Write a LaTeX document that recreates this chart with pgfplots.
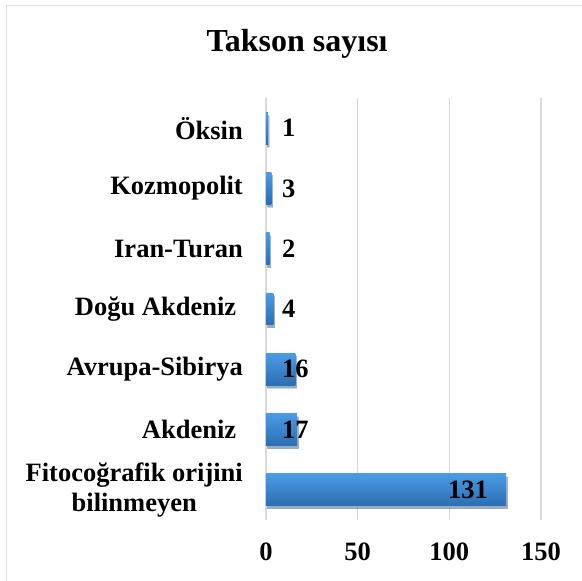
\documentclass[border=0pt]{standalone}
\usepackage{fontspec}
\setmainfont{Liberation Serif}
\usepackage{pgfplots}
\pgfplotsset{compat=1.18}
\usetikzlibrary{shadows}
\definecolor{barTop}{RGB}{74,155,229}
\definecolor{barBot}{RGB}{44,110,178}
\definecolor{gridc}{RGB}{217,217,217}
\definecolor{framec}{RGB}{220,224,232}
\newcommand{\lblfont}{\bfseries\fontsize{26.5bp}{30bp}\selectfont}
\pgfplotsset{
  onebar/.style={xbar, bar shift=0pt, draw=none, top color=barTop, bottom color=barBot,
    drop shadow={shadow xshift=1.5bp, shadow yshift=-3bp, opacity=0.3, fill=black!70}},
}
\begin{document}
\begin{tikzpicture}[x=1bp,y=1bp]
\useasboundingbox (-266,-61) rectangle (316,520);
\draw[framec, line width=1.5bp] (-259.3,-70) -- (-259.3,514.3) -- (330,514.3);
\begin{axis}[
  at={(0,0)}, anchor=south west,
  scale only axis, width=275bp, height=422bp,
  xmin=0, xmax=150, ymin=-0.5, ymax=6.5,
  enlargelimits=false,
  bar width=0.53,
  xtick={0,50,100,150},
  ytick={0,...,6},
  yticklabels={{Fitocoğrafik orijini\\bilinmeyen},{Akdeniz\hspace*{0.25em}},{Avrupa-Sibirya},{Doğu Akdeniz\hspace*{0.25em}},{Iran-Turan},{Kozmopolit},{Öksin}},
  axis line style={draw=none},
  tick style={draw=none},
  major tick length=0pt,
  xmajorgrids,
  grid style={gridc, line width=1.2bp},
  /pgf/number format/assume math mode=true,
  tick label style={font=\lblfont, text=black},
  xticklabel style={inner sep=0pt, anchor=north, yshift=-23bp},
  yticklabel style={inner sep=0pt, anchor=east, xshift=-23bp, align=center},
  title={Takson sayısı},
  title style={at={(0.113,1.097)}, anchor=base, font=\bfseries\fontsize{32bp}{38bp}\selectfont},
  clip=false,
]
% one plot per bar so that each bar gets its own gradient
\addplot[onebar] coordinates {(131,0)};
\addplot[onebar] coordinates {(17,1)};
\addplot[onebar] coordinates {(16,2)};
\addplot[onebar] coordinates {(4,3)};
\addplot[onebar] coordinates {(2,4)};
\addplot[onebar] coordinates {(3,5)};
\addplot[onebar] coordinates {(1,6)};
\addplot[draw=none, mark=none, nodes near coords, point meta=explicit symbolic,
  nodes near coords style={anchor=west, inner sep=0pt, font=\lblfont, text=black}]
  coordinates {(8.7,1)[17] (8.7,2)[16] (8.7,3)[4] (8.7,4)[2] (8.7,5)[3] (8.7,6)[1]};
\addplot[draw=none, mark=none, nodes near coords, point meta=explicit symbolic,
  nodes near coords style={anchor=east, inner sep=0pt, font=\lblfont, text=black}]
  coordinates {(121.1,0)[131]};
\end{axis}
\end{tikzpicture}
\end{document}
